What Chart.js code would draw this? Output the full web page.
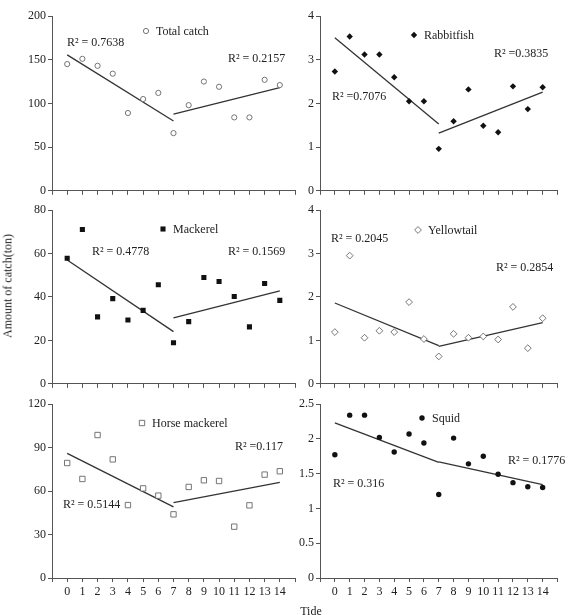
<!DOCTYPE html>
<html>
<head>
<meta charset="utf-8">
<script src="https://cdn.jsdelivr.net/npm/chart.js@4.4.0/dist/chart.umd.min.js"></script>
<style>
  body { margin: 0; background: #fff; }
  #wrap { position: relative; width: 570px; height: 615px; font-family: "Liberation Serif", "Times New Roman", serif; color: #222; overflow: hidden; }
  #wrap canvas { position: absolute; }
  .ylab { position: absolute; left: 8px; top: 286px; transform: translate(-50%, -50%) rotate(-90deg); font-size: 12px; white-space: nowrap; }
  .xlab { position: absolute; left: 311px; top: 611px; transform: translate(-50%, -50%); font-size: 12px; }
</style>
</head>
<body>
<div id="wrap">
  <canvas id="c1" width="300" height="200" style="left:0;top:0"></canvas>
  <canvas id="c2" width="282" height="200" style="left:288px;top:0"></canvas>
  <canvas id="c3" width="300" height="199" style="left:0;top:194px"></canvas>
  <canvas id="c4" width="282" height="199" style="left:288px;top:194px"></canvas>
  <canvas id="c5" width="300" height="225" style="left:0;top:390px"></canvas>
  <canvas id="c6" width="282" height="225" style="left:288px;top:390px"></canvas>
  <div class="ylab">Amount of catch(ton)</div>
  <div class="xlab">Tide</div>
</div>
<script>
// tide number (x axis)
var tides = [0, 1, 2, 3, 4, 5, 6, 7, 8, 9, 10, 11, 12, 13, 14];

// catch per tide (ton)
var totalCatch    = [145, 151, 143, 134, 89, 105, 112, 66, 98, 125, 119, 84, 84, 127, 121];
var rabbitfish    = [2.73, 3.53, 3.12, 3.12, 2.60, 2.05, 2.05, 0.96, 1.59, 2.32, 1.49, 1.34, 2.39, 1.87, 2.37];
var mackerel      = [57.8, 71, 30.8, 39.2, 29.4, 33.8, 45.6, 18.9, 28.6, 48.9, 47.1, 40.2, 26.2, 46.2, 38.4];
var yellowtail    = [1.19, 2.95, 1.06, 1.22, 1.19, 1.88, 1.03, 0.63, 1.15, 1.06, 1.09, 1.02, 1.77, 0.82, 1.51];
var horseMackerel = [79.3, 68.3, 98.6, 81.8, 50.3, 61.8, 56.8, 43.9, 62.8, 67.4, 66.9, 35.4, 50.1, 71.3, 73.6];
var squid         = [1.77, 2.34, 2.34, 2.02, 1.81, 2.07, 1.94, 1.20, 2.01, 1.64, 1.75, 1.49, 1.37, 1.31, 1.30];

// trend lines: tide 0 -> 7 and 7 -> 14 [leftStart, leftEnd, rightStart, rightEnd]
var fitX = [0, 7, 14];
var totalFit  = [155.5, 79.8, 87.7, 118];
var rabbitFit = [3.5, 1.53, 1.32, 2.26];
var mackFit   = [57, 24, 30.3, 42.8];
var yellowFit = [1.86, 0.88, 0.86, 1.41];
var horseFit  = [86, 49, 52, 66];
var squidFit  = [2.23, 1.66, 1.67, 1.34];

// r squared labels (left fit, right fit)
var totalR2  = ['R\u00b2 = 0.7638', 'R\u00b2 = 0.2157'];
var rabbitR2 = ['R\u00b2 =0.7076', 'R\u00b2 =0.3835'];
var mackR2   = ['R\u00b2 = 0.4778', 'R\u00b2 = 0.1569'];
var yellowR2 = ['R\u00b2 = 0.2045', 'R\u00b2 = 0.2854'];
var horseR2  = ['R\u00b2 = 0.5144', 'R\u00b2 =0.117'];
var squidR2  = ['R\u00b2 = 0.316', 'R\u00b2 = 0.1776'];

// y axis ticks
var totalTicks  = [0, 50, 100, 150, 200];
var rabbitTicks = [0, 1, 2, 3, 4];
var mackTicks   = [0, 20, 40, 60, 80];
var yellowTicks = [0, 1, 2, 3, 4];
var horseTicks  = [0, 30, 60, 90, 120];
var squidTicks  = [0, 0.5, 1, 1.5, 2, 2.5];

Chart.defaults.font.family = "'Liberation Serif', 'Times New Roman', serif";
Chart.defaults.font.size = 12;
Chart.defaults.color = '#222';

function drawMarker(ctx, style, x, y) {
    var r = style.radius;
    ctx.save();
    ctx.fillStyle = style.fill;
    ctx.strokeStyle = style.stroke;
    ctx.lineWidth = style.width;
    ctx.beginPath();
    if (style.shape === 'circle') {
        ctx.arc(x, y, r, 0, Math.PI * 2);
    } else if (style.shape === 'rect') {
        var s = r * Math.SQRT1_2;
        ctx.rect(x - s, y - s, 2 * s, 2 * s);
    } else {
        ctx.moveTo(x, y - r); ctx.lineTo(x + r, y); ctx.lineTo(x, y + r); ctx.lineTo(x - r, y); ctx.closePath();
    }
    ctx.fill();
    if (style.width > 0) ctx.stroke();
    ctx.restore();
}

function makePanel(p) {
    var pts = tides.map(function(t, i) { return { x: t, y: p.values[i] }; });
    var shapeMap = { circle: 'circle', rect: 'rect', diamond: 'rectRot' };

    var notes = {
        id: 'notes',
        afterDraw: function(chart) {
            var ctx = chart.ctx;
            ctx.save();
            ctx.font = "12px 'Liberation Serif', 'Times New Roman', serif";
            ctx.fillStyle = '#222';
            ctx.textBaseline = 'middle';
            ctx.textAlign = 'left';
            p.notes.forEach(function(n, i) {
                ctx.fillText(p.r2[i], n[0] - p.left, n[1] - p.top);
            });
            ctx.fillText(p.name, p.key[0] + 10 - p.left, p.key[1] + 1 - p.top);
            ctx.restore();
            drawMarker(ctx, p.style, p.key[0] - p.left, p.key[1] - p.top);
        }
    };

    new Chart(document.getElementById(p.id), {
        type: 'scatter',
        data: {
            datasets: [{
                data: pts,
                pointStyle: shapeMap[p.style.shape],
                pointRadius: p.style.radius,
                pointBackgroundColor: p.style.fill,
                pointBorderColor: p.style.stroke,
                pointBorderWidth: p.style.width
            }, {
                data: [{ x: fitX[0], y: p.fit[0] }, { x: fitX[1], y: p.fit[1] }],
                showLine: true, pointRadius: 0, borderColor: '#333', borderWidth: 1.3
            }, {
                data: [{ x: fitX[1], y: p.fit[2] }, { x: fitX[2], y: p.fit[3] }],
                showLine: true, pointRadius: 0, borderColor: '#333', borderWidth: 1.3
            }]
        },
        options: {
            responsive: false,
            animation: false,
            layout: { padding: { left: 0, right: p.pr, top: p.pt, bottom: 0 } },
            plugins: { legend: { display: false }, tooltip: { enabled: false } },
            scales: {
                x: {
                    type: 'linear', min: -1, max: 15,
                    ticks: {
                        stepSize: 1, autoSkip: false, maxRotation: 0, padding: 3,
                        callback: function(v) { return (p.labels && v >= 0 && v <= 14) ? String(v) : ''; }
                    },
                    grid: { drawOnChartArea: false, tickLength: 4, color: '#555' },
                    border: { color: '#555', width: 1 },
                    afterFit: function(s) { s.height = p.hX; }
                },
                y: {
                    min: 0, max: p.ticks[p.ticks.length - 1],
                    ticks: {
                        stepSize: p.ticks[1] - p.ticks[0], padding: 2,
                        callback: function(v) { return String(v); }
                    },
                    grid: { drawOnChartArea: false, tickLength: 4, color: '#555' },
                    border: { color: '#555', width: 1 },
                    afterFit: function(s) { s.width = p.wY; }
                }
            }
        },
        plugins: [notes]
    });
}

var openGray = { fill: '#fff', stroke: '#666', width: 0.9 };

makePanel({ id: 'c1', left: 0, top: 0, wY: 52, pr: 5, pt: 16, hX: 8, labels: false,
    values: totalCatch, fit: totalFit, ticks: totalTicks, r2: totalR2, name: 'Total catch',
    style: { shape: 'circle', radius: 2.6, fill: openGray.fill, stroke: openGray.stroke, width: openGray.width },
    notes: [[67, 43], [228, 59]], key: [146, 31] });

makePanel({ id: 'c2', left: 288, top: 0, wY: 32, pr: 12.5, pt: 16, hX: 8, labels: false,
    values: rabbitfish, fit: rabbitFit, ticks: rabbitTicks, r2: rabbitR2, name: 'Rabbitfish',
    style: { shape: 'diamond', radius: 3.2, fill: '#111', stroke: '#111', width: 0 },
    notes: [[332, 97], [494, 54]], key: [414, 35] });

makePanel({ id: 'c3', left: 0, top: 194, wY: 52, pr: 5, pt: 16, hX: 8, labels: false,
    values: mackerel, fit: mackFit, ticks: mackTicks, r2: mackR2, name: 'Mackerel',
    style: { shape: 'rect', radius: 3.6, fill: '#111', stroke: '#111', width: 0 },
    notes: [[92, 252], [228, 252]], key: [163, 229] });

makePanel({ id: 'c4', left: 288, top: 194, wY: 32, pr: 12.5, pt: 16, hX: 8, labels: false,
    values: yellowtail, fit: yellowFit, ticks: yellowTicks, r2: yellowR2, name: 'Yellowtail',
    style: { shape: 'diamond', radius: 3.4, fill: openGray.fill, stroke: openGray.stroke, width: openGray.width },
    notes: [[331, 239], [496, 268]], key: [418, 230] });

makePanel({ id: 'c5', left: 0, top: 390, wY: 52, pr: 5, pt: 14, hX: 37, labels: true,
    values: horseMackerel, fit: horseFit, ticks: horseTicks, r2: horseR2, name: 'Horse mackerel',
    style: { shape: 'rect', radius: 3.8, fill: openGray.fill, stroke: openGray.stroke, width: openGray.width },
    notes: [[63, 505], [235, 447]], key: [142, 423] });

makePanel({ id: 'c6', left: 288, top: 390, wY: 32, pr: 12.5, pt: 14, hX: 37, labels: true,
    values: squid, fit: squidFit, ticks: squidTicks, r2: squidR2, name: 'Squid',
    style: { shape: 'circle', radius: 2.7, fill: '#111', stroke: '#111', width: 0 },
    notes: [[333, 484], [508, 461]], key: [422, 418] });
</script>
</body>
</html>
